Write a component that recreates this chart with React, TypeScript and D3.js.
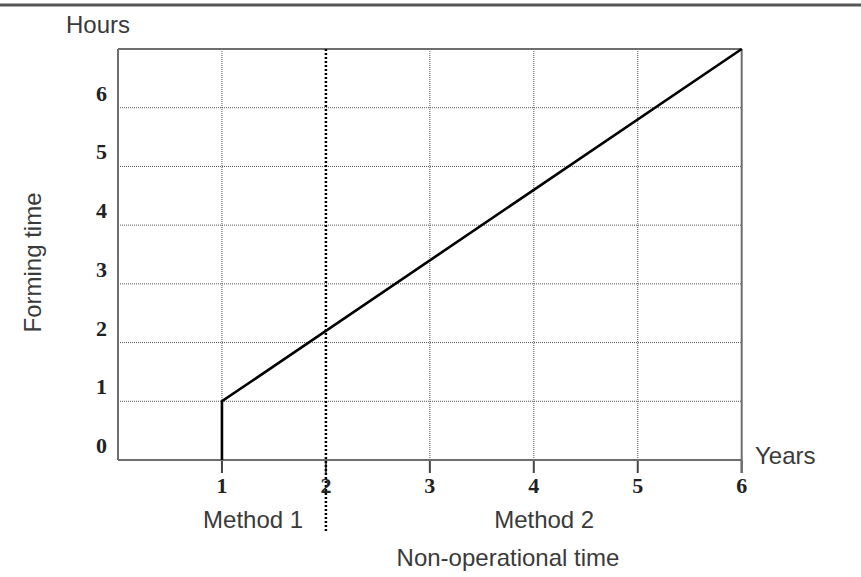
import React from "react";
import * as d3 from "d3";

const yearTicks = [1, 2, 3, 4, 5, 6];
const hourTicks = [0, 1, 2, 3, 4, 5, 6];
const gridYears = [1, 3, 4, 5];
const gridHours = [1, 2, 3, 4, 5, 6];
const boundaryYear = 2;
const seriesYears = [1, 1, 6];
const seriesHours = [0, 1, 7];
const methodLabels = ["Method 1", "Method 2"];
const methodCenters = [1.3, 4.1];

export default function App() {
  const W = 861, H = 577;
  const x = d3.scaleLinear().domain([0, 6]).range([118, 741.7]);
  const y = d3.scaleLinear().domain([0, 7]).range([460, 49]);
  const pts = seriesYears.map((v, i) => [x(v), y(seriesHours[i])] as [number, number]);
  const line = d3.line()(pts) || "";
  const sans = "'Liberation Sans', Arial, sans-serif";
  const serif = "'Liberation Serif', 'Times New Roman', serif";
  const txt = "#3a3a3a";
  const axisC = "#6e6e6e";
  return (
    <svg width={W} height={H} style={{ position: "absolute", left: 0, top: 0, background: "#fff" }}>
      <line x1={0} x2={W} y1={5} y2={5} stroke="#555" strokeWidth={3} />
      {gridHours.map((h) => (
        <line key={"gh" + h} x1={x(0)} x2={x(6)} y1={y(h)} y2={y(h)} stroke="#555" strokeWidth={1} strokeDasharray="1,1" />
      ))}
      {gridYears.map((v) => (
        <line key={"gv" + v} x1={x(v)} x2={x(v)} y1={y(7)} y2={y(0)} stroke="#555" strokeWidth={1} strokeDasharray="1,1" />
      ))}
      {yearTicks.map((v) => (
        <line key={"t" + v} x1={x(v)} x2={x(v)} y1={y(0)} y2={y(0) + 13} stroke="#444" strokeWidth={2} />
      ))}
      <line x1={x(0)} x2={x(6)} y1={y(7)} y2={y(7)} stroke={axisC} strokeWidth={2} />
      <line x1={x(0)} x2={x(0)} y1={y(7)} y2={y(0)} stroke={axisC} strokeWidth={2} />
      <line x1={x(6)} x2={x(6)} y1={y(7)} y2={y(0) + 13} stroke={axisC} strokeWidth={2} />
      <line x1={x(0)} x2={x(6)} y1={y(0)} y2={y(0)} stroke={axisC} strokeWidth={2} />
      <line x1={x(boundaryYear)} x2={x(boundaryYear)} y1={y(7)} y2={532} stroke="#000" strokeWidth={2.5} strokeDasharray="2,2" />
      <path d={line} fill="none" stroke="#000" strokeWidth={2.6} />
      {hourTicks.map((h) => (
        <text key={"yl" + h} x={107} y={y(h) - 7} textAnchor="end" fontFamily={serif} fontWeight="bold" fontSize={22} fill="#222">
          {h}
        </text>
      ))}
      {yearTicks.map((v) => (
        <text key={"xl" + v} x={x(v)} y={493} textAnchor="middle" fontFamily={serif} fontWeight="bold" fontSize={22} fill="#222">
          {v}
        </text>
      ))}
      <text x={66} y={33} fontFamily={sans} fontSize={24} fill={txt}>Hours</text>
      <text x={755} y={464} fontFamily={sans} fontSize={24} fill={txt}>Years</text>
      <text transform={`translate(41,262.5) rotate(-90)`} textAnchor="middle" fontFamily={sans} fontSize={24} fill={txt}>
        Forming time
      </text>
      {methodLabels.map((m, i) => (
        <text key={m} x={x(methodCenters[i])} y={528} textAnchor="middle" fontFamily={sans} fontSize={24} fill={txt}>
          {m}
        </text>
      ))}
      <text x={508} y={566} textAnchor="middle" fontFamily={sans} fontSize={24} fill={txt}>Non-operational time</text>
    </svg>
  );
}
